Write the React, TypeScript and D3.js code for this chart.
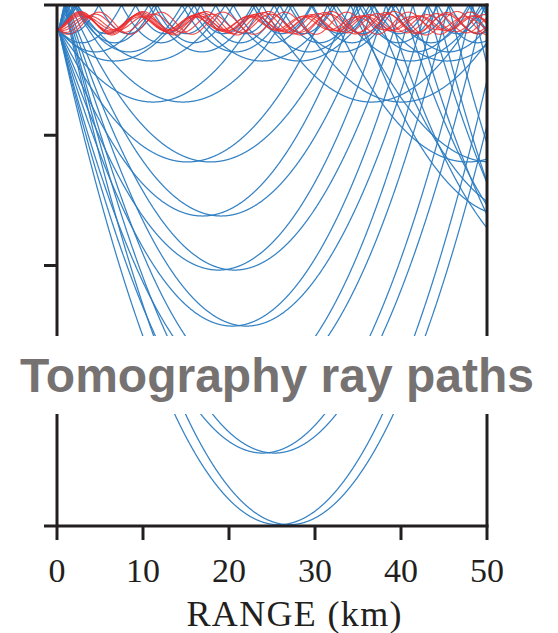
import React from "react";
import * as d3 from "d3";

// ---- data ----
const xTicks = [0, 10, 20, 30, 40, 50];
const yTicks = [0, 1, 2, 3, 4];
const SOURCE_RANGE = 0.2; // km
const SOURCE_DEPTH = 0.19; // axis units

// surface-reflected rays (blue): turning depth and surface-to-turning half span (km)
const blueTurnDepth = [0.22, 0.29, 0.36, 0.43, 0.745, 1.205, 1.62, 2.035, 2.465, 2.95, 3.44, 3.99];
const blueHalfSpan = [3.4, 4.6, 6.2, 8.6, 12.7, 16.3, 17.8, 19.5, 21.0, 22.3, 24.4, 26.2];

// ducted rays (red)
const redCenter = 0.14;
const redAmplitude = [0.05, 0.058, 0.066, 0.074, 0.082, 0.09, 0.055, 0.07, 0.085];
const redPeriod = [6.3, 6.5, 6.7, 6.9, 7.1, 7.3, 6.4, 6.8, 7.2];
const redDirection = [1, 1, 1, 1, 1, 1, -1, -1, -1]; // 1 = launched upward

const W = 558, H = 633;
const x = d3.scaleLinear().domain([0, 50]).range([57, 487]);
const y = d3.scaleLinear().domain([0, 4]).range([5, 526]);

const STEP = 0.04;
const samples = d3.range(SOURCE_RANGE, 50 + STEP / 2, STEP);

function blueRay(zt: number, h: number, up: boolean): [number, number][] {
  const s = Math.sqrt(Math.max(0, 1 - SOURCE_DEPTH / zt));
  const xt = SOURCE_RANGE + (up ? h * (2 - s) : h * s);
  return samples.map((r) => {
    const u = r - xt;
    const m = ((((u + h) % (2 * h)) + 2 * h) % (2 * h)) - h;
    const z = zt * (1 - (m / h) * (m / h));
    return [r, z];
  });
}

function redRay(A: number, P: number, dir: number): [number, number][] {
  const c = Math.max(-1, Math.min(1, (SOURCE_DEPTH - redCenter) / A));
  const th0 = dir * Math.acos(c);
  return samples.map((r) => [r, redCenter + A * Math.cos((2 * Math.PI * (r - SOURCE_RANGE)) / P + th0)]);
}

const line = d3
  .line<[number, number]>()
  .x((d) => x(d[0]))
  .y((d) => y(d[1]));

export default function App() {
  const blue: string[] = [];
  blueTurnDepth.forEach((zt, i) => {
    blue.push(line(blueRay(zt, blueHalfSpan[i], false)) as string);
    blue.push(line(blueRay(zt, blueHalfSpan[i], true)) as string);
  });
  const red = redAmplitude.map((A, i) => line(redRay(A, redPeriod[i], redDirection[i])) as string);
  const axisColor = "#231f20";
  const x0 = x(0), x1 = x(50), y0 = y(0), y1 = y(4);
  return (
    <svg width={W} height={H} style={{ position: "absolute", left: 0, top: 0, background: "#fff" }}>
      <defs>
        <clipPath id="plot">
          <rect x={x0} y={y0} width={x1 - x0} height={y1 - y0} />
        </clipPath>
      </defs>
      <g clipPath="url(#plot)" fill="none">
        {blue.map((d, i) => (
          <path key={"b" + i} d={d} stroke="#2a7bc1" strokeWidth={1.25} strokeOpacity={0.95} />
        ))}
        {red.map((d, i) => (
          <path key={"r" + i} d={d} stroke="#ee2b2b" strokeWidth={1.1} strokeOpacity={0.85} />
        ))}
      </g>
      <g stroke={axisColor} strokeWidth={3} fill="none">
        <line x1={x0} x2={x0} y1={y0} y2={y1} />
        <line x1={x1} x2={x1} y1={y0 - 1.5} y2={y1} />
        <line x1={x0} x2={x1 + 1.5} y1={y0} y2={y0} />
        <line x1={x0} x2={x1 + 1.5} y1={y1} y2={y1} />
        {yTicks.map((t) => (
          <line key={"yt" + t} x1={x0 - 13} x2={x0} y1={y(t)} y2={y(t)} />
        ))}
        {xTicks.map((t) => (
          <line key={"xt" + t} x1={x(t)} x2={x(t)} y1={y1} y2={y1 + 14} />
        ))}
      </g>
      <g fill={axisColor} fontFamily="'Liberation Serif', 'Times New Roman', serif" textAnchor="middle">
        {xTicks.map((t) => (
          <text key={"xl" + t} x={x(t)} y={582} fontSize={34}>
            {t}
          </text>
        ))}
        <text x={294} y={626} fontSize={36} textLength={215} lengthAdjust="spacing">
          RANGE (km)
        </text>
      </g>
      <rect x={0} y={336} width={W} height={78} fill="#fff" />
      <text
        x={277}
        y={392}
        textAnchor="middle"
        fontFamily="'Liberation Sans', Arial, sans-serif"
        fontWeight="bold"
        fontSize={48}
        fill="#767272"
      >
        Tomography ray paths
      </text>
    </svg>
  );
}
